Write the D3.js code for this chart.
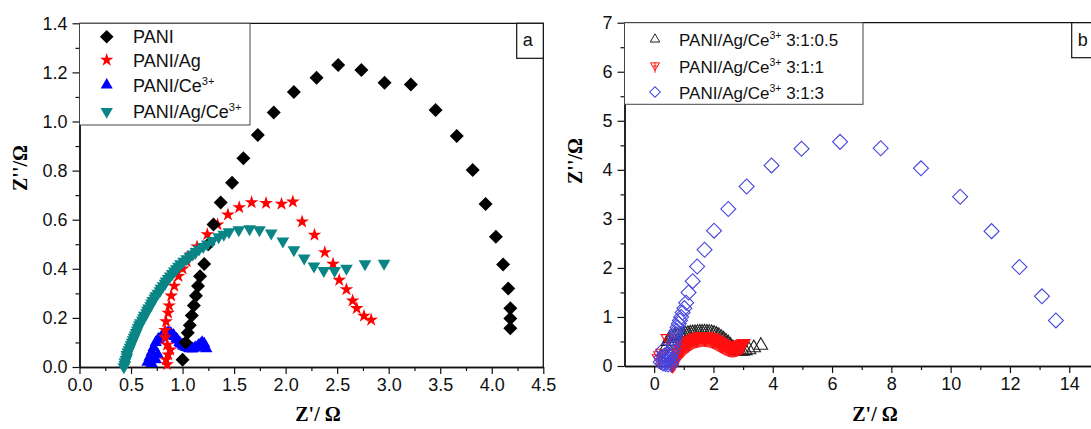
<!DOCTYPE html>
<html>
<head>
<meta charset="utf-8">
<script src="https://cdn.jsdelivr.net/npm/d3@7"></script>
<style>
  body { margin: 0; background: #fff; }
</style>
</head>
<body>
<svg width="1091" height="429" font-family="Liberation Sans, Arial, sans-serif"></svg>
<script>
// ---- panel a data: [Z', Z''] in ohm ----
const pani = [[1.00,0.03],[1.03,0.10],[1.05,0.14],[1.07,0.17],[1.09,0.21],[1.11,0.25],[1.13,0.29],[1.15,0.33],
  [1.17,0.37],[1.21,0.42],[1.25,0.50],[1.30,0.58],[1.37,0.67],[1.48,0.75],[1.59,0.85],[1.73,0.945],[1.885,1.037],
  [2.08,1.12],[2.30,1.178],[2.51,1.23],[2.735,1.21],[2.96,1.158],[3.215,1.151],[3.455,1.047],[3.66,0.941],
  [3.815,0.802],[3.94,0.664],[4.04,0.531],[4.11,0.418],[4.16,0.32],[4.18,0.239],[4.18,0.198],[4.18,0.158]];

const paniAg = [[0.85,0.01],[0.84,0.03],[0.86,0.05],[0.88,0.07],[0.85,0.09],[0.83,0.12],[0.83,0.15],[0.84,0.185],
  [0.86,0.22],[0.87,0.25],[0.89,0.29],[0.92,0.33],[0.96,0.37],[1.00,0.40],[1.04,0.43],[1.09,0.46],[1.14,0.49],
  [1.24,0.54],[1.34,0.58],[1.44,0.62],[1.55,0.65],[1.67,0.67],[1.81,0.667],[1.96,0.664],[2.07,0.673],[2.16,0.592],
  [2.28,0.538],[2.38,0.467],[2.46,0.42],[2.52,0.354],[2.59,0.316],[2.65,0.27],[2.69,0.239],[2.76,0.208],[2.83,0.192]];

const paniCe = [[0.66,0.02],[0.70,0.015],[0.68,0.04],[0.74,0.03],[0.70,0.06],[0.76,0.05],[0.72,0.08],[0.74,0.10],
  [0.76,0.11],[0.77,0.115],[0.79,0.12],[0.80,0.125],[0.82,0.13],[0.83,0.135],[0.85,0.138],[0.86,0.14],[0.88,0.138],
  [0.89,0.135],[0.91,0.13],[0.92,0.125],[0.94,0.115],[0.95,0.11],[0.97,0.10],[0.98,0.095],[1.00,0.09],[1.01,0.085],
  [1.03,0.082],[1.04,0.08],[1.06,0.077],[1.07,0.075],[1.09,0.075],[1.10,0.075],[1.12,0.078],[1.13,0.08],[1.15,0.085],
  [1.16,0.09],[1.18,0.095],[1.19,0.10],[1.21,0.095],[1.23,0.075]];

const paniAgCe = [[0.43,0.00],[0.44,0.01],[0.44,0.02],[0.45,0.03],[0.46,0.04],[0.46,0.05],[0.47,0.06],[0.48,0.07],
  [0.49,0.08],[0.50,0.09],[0.51,0.10],[0.52,0.11],[0.53,0.12],[0.54,0.13],[0.55,0.14],[0.56,0.15],[0.57,0.16],
  [0.58,0.17],[0.59,0.18],[0.61,0.19],[0.62,0.20],[0.63,0.21],[0.65,0.22],[0.66,0.23],[0.67,0.24],[0.69,0.25],
  [0.70,0.26],[0.71,0.27],[0.73,0.28],[0.74,0.29],[0.76,0.30],[0.78,0.31],[0.79,0.32],[0.81,0.33],[0.83,0.34],
  [0.84,0.35],[0.86,0.36],[0.88,0.37],[0.90,0.38],[0.92,0.39],[0.94,0.40],[0.96,0.41],[0.98,0.42],[1.01,0.43],
  [1.04,0.44],[1.07,0.45],[1.10,0.46],[1.13,0.47],[1.16,0.48],[1.20,0.49],[1.24,0.50],[1.29,0.515],[1.35,0.53],
  [1.40,0.54],[1.45,0.55],[1.545,0.558],[1.65,0.562],[1.746,0.558],[1.86,0.545],[1.973,0.513],[2.08,0.477],
  [2.18,0.443],[2.275,0.411],[2.37,0.392],[2.475,0.392],[2.59,0.402],[2.77,0.42],[2.955,0.422]];

// ---- panel b data ----
const r3105 = [[0.42,0.40],[0.46,0.50],[0.52,0.56],[0.60,0.59],[0.70,0.61],[0.80,0.62],[0.90,0.63],[0.98,0.64],
  [1.06,0.65],[1.14,0.66],[1.22,0.67],[1.30,0.675],[1.38,0.68],[1.46,0.685],[1.54,0.69],[1.62,0.69],[1.70,0.69],
  [1.78,0.69],[1.86,0.685],[1.94,0.68],[2.02,0.665],[2.10,0.645],[2.18,0.62],[2.26,0.585],[2.34,0.55],[2.42,0.51],
  [2.50,0.47],[2.58,0.42],[2.66,0.37],[2.74,0.33],[2.82,0.31],[2.90,0.30],[2.98,0.30],[3.08,0.31],[3.20,0.33],
  [3.36,0.37],[3.60,0.42]];

const r311 = [[0.15,0.14],[0.20,0.20],[0.28,0.25],[0.45,0.55],[0.55,0.08],[0.58,0.05],[0.62,0.04],[0.65,0.06],
  [0.68,0.08],[0.71,0.11],[0.74,0.15],[0.77,0.18],[0.80,0.22],[0.83,0.25],[0.86,0.28],[0.89,0.31],[0.92,0.33],
  [0.95,0.35],[0.98,0.37],[1.01,0.39],[1.04,0.41],[1.07,0.43],[1.10,0.44],[1.13,0.46],[1.16,0.47],[1.19,0.49],
  [1.22,0.50],[1.25,0.51],[1.28,0.52],[1.31,0.53],[1.34,0.54],[1.37,0.55],[1.40,0.555],[1.43,0.56],[1.46,0.565],
  [1.49,0.57],[1.52,0.575],[1.55,0.578],[1.58,0.58],[1.61,0.583],[1.64,0.585],[1.67,0.585],[1.70,0.585],
  [1.73,0.583],[1.76,0.58],[1.79,0.578],[1.82,0.575],[1.85,0.57],[1.88,0.565],[1.91,0.56],[1.94,0.555],
  [1.97,0.548],[2.00,0.54],[2.03,0.53],[2.06,0.52],[2.09,0.51],[2.12,0.50],[2.15,0.49],[2.18,0.48],[2.21,0.47],
  [2.24,0.46],[2.27,0.45],[2.30,0.44],[2.33,0.43],[2.36,0.42],[2.39,0.41],[2.42,0.405],[2.45,0.40],[2.48,0.39],
  [2.51,0.385],[2.54,0.38],[2.57,0.375],[2.60,0.37],[2.63,0.37],[2.66,0.37],[2.69,0.372],[2.72,0.375],[2.75,0.38],
  [2.78,0.385],[2.81,0.39],[2.84,0.40],[2.87,0.405],[2.90,0.41],[2.93,0.42],[2.96,0.43],[2.99,0.44],[3.02,0.45]];

const r313 = [[0.22,0.08],[0.25,0.18],[0.30,0.32],[0.30,0.05],[0.34,0.12],[0.36,0.22],[0.38,0.04],[0.40,0.15],
  [0.43,0.08],[0.45,0.25],[0.47,0.03],[0.50,0.15],[0.53,0.07],[0.56,0.20],[0.58,0.04],[0.60,0.12],[0.62,0.28],
  [0.64,0.36],[0.66,0.44],[0.68,0.51],[0.70,0.58],[0.73,0.65],[0.76,0.72],[0.79,0.79],
  [0.83,0.86],[0.87,0.93],[0.91,1.00],[0.96,1.09],[1.02,1.18],[1.08,1.29],[1.16,1.50],[1.30,1.73],[1.45,2.03],
  [1.70,2.37],[2.02,2.76],[2.50,3.20],[3.12,3.66],[3.96,4.09],[4.97,4.43],[6.27,4.57],[7.64,4.44],[9.00,4.03],
  [10.32,3.45],[11.38,2.75],[12.32,2.02],[13.08,1.42],[13.55,0.93]];

// ---- ticks and labels ----
const aXTicks = [0, 0.5, 1, 1.5, 2, 2.5, 3, 3.5, 4, 4.5];
const aXMinor = [0.25, 0.75, 1.25, 1.75, 2.25, 2.75, 3.25, 3.75, 4.25];
const aYTicks = [0, 0.2, 0.4, 0.6, 0.8, 1.0, 1.2, 1.4];
const aYMinor = [0.1, 0.3, 0.5, 0.7, 0.9, 1.1, 1.3];
const bXTicks = [0, 2, 4, 6, 8, 10, 12, 14];
const bXMinor = [1, 3, 5, 7, 9, 11, 13];
const bYTicks = [0, 1, 2, 3, 4, 5, 6, 7];
const bYMinor = [0.5, 1.5, 2.5, 3.5, 4.5, 5.5, 6.5];
const aLabels = ["PANI", "PANI/Ag", "PANI/Ce^3+", "PANI/Ag/Ce^3+"];
const bLabels = ["PANI/Ag/Ce^3+ 3:1:0.5", "PANI/Ag/Ce^3+ 3:1:1", "PANI/Ag/Ce^3+ 3:1:3"];

const svg = d3.select("svg");
const serif = "Liberation Serif, Times New Roman, serif";

// down triangle with a cross through it (Origin style marker)
const symbolTriCross = {
  draw(ctx, size) {
    const w = Math.sqrt(size) * 0.62;
    ctx.moveTo(-w, -0.7 * w);
    ctx.lineTo(w, -0.7 * w);
    ctx.lineTo(0, 1.0 * w);
    ctx.closePath();
    ctx.moveTo(0, -0.7 * w);
    ctx.lineTo(0, 1.5 * w);
    ctx.moveTo(-0.55 * w, 0);
    ctx.lineTo(0.55 * w, 0);
  }
};

const styles = {
  pani:     { type: d3.symbolSquare, size: 98, rot: 45, fill: "#000", stroke: "none" },
  paniAg:   { type: d3.symbolStar, size: 58, rot: 0, fill: "#ff0000", stroke: "none" },
  paniCe:   { type: d3.symbolTriangle, size: 66, rot: 0, fill: "#0000ff", stroke: "none" },
  paniAgCe: { type: d3.symbolTriangle, size: 70, rot: 180, fill: "#0a8585", stroke: "none" },
  r3105:    { type: d3.symbolTriangle, size: 78, rot: 0, fill: "none", stroke: "#222" },
  r311:     { type: symbolTriCross, size: 105, rot: 0, fill: "none", stroke: "#ff1010" },
  r313:     { type: d3.symbolSquare, size: 112, rot: 45, fill: "none", stroke: "#4545dd" }
};

function label(sel, str, fontSize) {
  const parts = str.split("^");
  sel.append("tspan").text(parts[0]);
  if (parts.length > 1) {
    const rest = parts[1].split(" ");
    sel.append("tspan").attr("dy", -7).attr("font-size", fontSize * 0.62).text(rest[0]);
    if (rest.length > 1) sel.append("tspan").attr("dy", 7).text(" " + rest.slice(1).join(" "));
  }
}

function panel(o) {
  const x = d3.scaleLinear().domain(o.xDomain).range([o.left, o.right]);
  const y = d3.scaleLinear().domain(o.yDomain).range([o.bottom, o.top]);
  const g = svg.append("g");

  // frame (top + right)
  g.append("path")
    .attr("d", `M${o.left},${o.top}H${o.right}V${o.bottom}`)
    .attr("fill", "none").attr("stroke", "#111").attr("stroke-width", 1.3);

  // minor ticks
  g.append("g").attr("transform", `translate(0,${o.bottom})`)
    .call(d3.axisBottom(x).tickValues(o.xMinor).tickFormat("").tickSize(4).tickSizeOuter(0));
  g.append("g").attr("transform", `translate(${o.left},0)`)
    .call(d3.axisLeft(y).tickValues(o.yMinor).tickFormat("").tickSize(4).tickSizeOuter(0));

  // major ticks
  const xa = g.append("g").attr("transform", `translate(0,${o.bottom})`)
    .call(d3.axisBottom(x).tickValues(o.xTicks).tickFormat(o.fmt).tickSize(7).tickPadding(4).tickSizeOuter(0));
  const ya = g.append("g").attr("transform", `translate(${o.left},0)`)
    .call(d3.axisLeft(y).tickValues(o.yTicks).tickFormat(o.fmt).tickSize(7).tickPadding(5).tickSizeOuter(0));
  [xa, ya].forEach(a => {
    a.attr("font-size", 18).attr("font-family", "Liberation Sans, Arial, sans-serif");
    a.selectAll("text").attr("fill", "#111");
  });
  g.selectAll(".domain").attr("stroke", "#111").attr("stroke-width", 1.4);
  g.selectAll(".tick line").attr("stroke", "#111").attr("stroke-width", 1.2);

  // axis titles
  g.append("text")
    .attr("x", o.xTitleX).attr("y", 421)
    .attr("text-anchor", "middle")
    .attr("font-family", serif)
    .attr("font-weight", "bold").attr("font-size", 20)
    .text("Z'/ Ω");
  g.append("text")
    .attr("transform", `translate(${o.yTitleX},${o.yTitleY}) rotate(-90)`)
    .attr("text-anchor", "middle")
    .attr("font-family", serif)
    .attr("font-weight", "bold").attr("font-size", 20)
    .text("Z''/Ω");

  // data
  o.series.forEach(s => {
    const st = styles[s.key];
    g.append("g").selectAll("path")
      .data(s.data).enter().append("path")
      .attr("transform", d => `translate(${x(d[0])},${y(d[1])}) rotate(${st.rot})`)
      .attr("d", d3.symbol(st.type, st.size))
      .attr("fill", st.fill)
      .attr("stroke", st.stroke)
      .attr("stroke-width", 1.1);
  });

  // legend
  g.append("rect")
    .attr("x", o.left).attr("y", o.top)
    .attr("width", o.legW).attr("height", o.legH)
    .attr("fill", "#fff").attr("stroke", "#444").attr("stroke-width", 1);
  o.legend.forEach((lab, i) => {
    const st = styles[o.legendKeys[i]];
    const cy = o.legY[i];
    g.append("path")
      .attr("transform", `translate(${o.legMarkX},${cy}) rotate(${st.rot})`)
      .attr("d", d3.symbol(st.type, st.size * o.legScale))
      .attr("fill", st.fill).attr("stroke", st.stroke).attr("stroke-width", 1);
    const t = g.append("text")
      .attr("x", o.legTextX).attr("y", cy + 6.5)
      .attr("font-size", o.legFont).attr("fill", "#111");
    label(t, lab, o.legFont);
  });

  // panel letter box
  g.append("rect")
    .attr("x", o.boxX).attr("y", o.top)
    .attr("width", o.right - o.boxX).attr("height", 35)
    .attr("fill", "#fff").attr("stroke", "#111").attr("stroke-width", 1.2);
  g.append("text")
    .attr("x", o.boxX + 6).attr("y", o.top + 23)
    .attr("font-size", 18).attr("fill", "#111")
    .text(o.letter);
}

panel({
  left: 79.5, right: 543.3, top: 23.3, bottom: 367,
  xDomain: [0, 4.5], yDomain: [0, 1.4],
  xTicks: aXTicks, xMinor: aXMinor, yTicks: aYTicks, yMinor: aYMinor,
  fmt: d3.format(".1f"),
  xTitleX: 318, yTitleX: 27, yTitleY: 168,
  series: [
    { key: "paniCe", data: paniCe },
    { key: "paniAg", data: paniAg },
    { key: "pani", data: pani },
    { key: "paniAgCe", data: paniAgCe }
  ],
  legend: aLabels, legendKeys: ["pani", "paniAg", "paniCe", "paniAgCe"],
  legW: 170.5, legH: 101.7, legMarkX: 106.7, legTextX: 133, legY: [36.7, 60, 85, 111.7],
  legFont: 18, legScale: 0.95,
  boxX: 516.7, letter: "a"
});

panel({
  left: 624.5, right: 1098.9, top: 22.7, bottom: 366,
  xDomain: [-1, 15], yDomain: [0, 7],
  xTicks: bXTicks, xMinor: bXMinor, yTicks: bYTicks, yMinor: bYMinor,
  fmt: d3.format("d"),
  xTitleX: 875, yTitleX: 582, yTitleY: 161,
  series: [
    { key: "r3105", data: r3105 },
    { key: "r311", data: r311 },
    { key: "r313", data: r313 }
  ],
  legend: bLabels, legendKeys: ["r3105", "r311", "r313"],
  legW: 238.5, legH: 81.6, legMarkX: 655, legTextX: 679, legY: [39.3, 66, 92],
  legFont: 17, legScale: 0.5,
  boxX: 1071.7, letter: "b"
});
</script>
</body>
</html>
